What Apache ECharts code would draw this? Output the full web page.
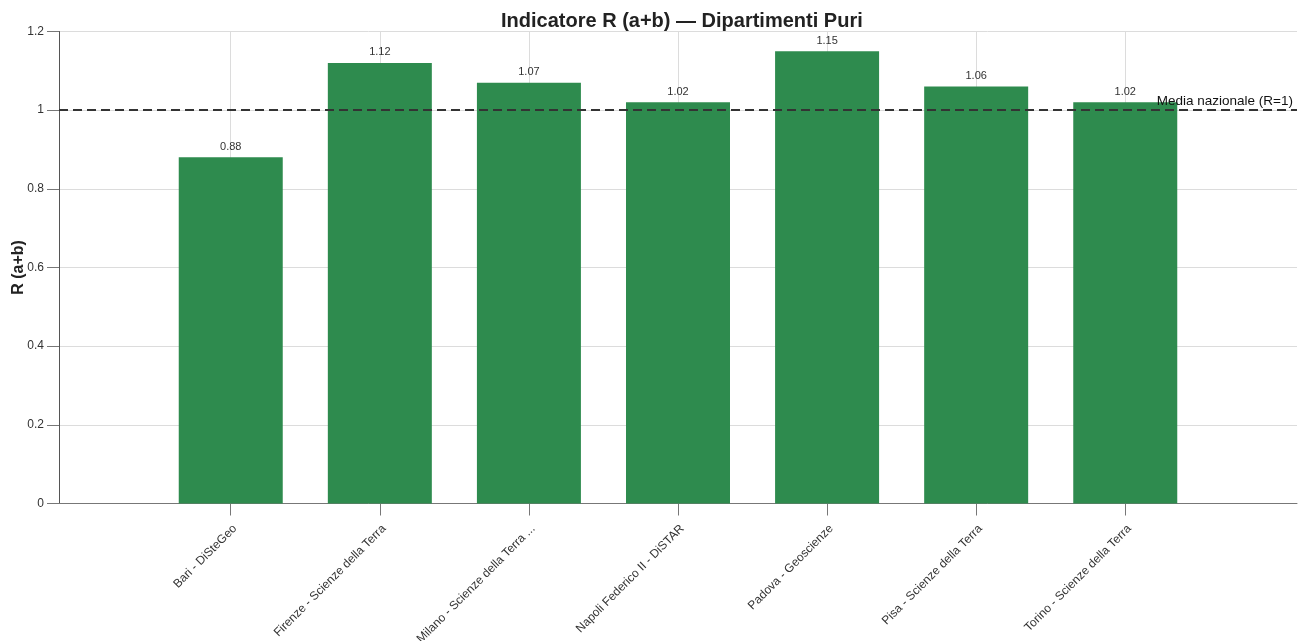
<!DOCTYPE html>
<html>
<head>
<meta charset="utf-8">
<script src="https://cdn.jsdelivr.net/npm/echarts@6/dist/echarts.min.js"></script>
<style>
html,body{margin:0;padding:0;background:#fff;}
#chart{width:1307px;height:641px;}
</style>
</head>
<body>
<div id="chart"></div>
<script>
const categories = [
  "Bari - DiSteGeo",
  "Firenze - Scienze della Terra",
  "Milano - Scienze della Terra ...",
  "Napoli Federico II - DiSTAR",
  "Padova - Geoscienze",
  "Pisa - Scienze della Terra",
  "Torino - Scienze della Terra"
];
const rValues = [0.88, 1.12, 1.07, 1.02, 1.15, 1.06, 1.02];
const referenceValue = 1;
const referenceLabel = "Media nazionale (R=1)";
const yTicks = [0, 0.2, 0.4, 0.6, 0.8, 1, 1.2];

const FONT = '"Liberation Sans", Arial, Helvetica, sans-serif';
const idx = categories.map((_, i) => i);
const pad = 1.152;

const chart = echarts.init(document.getElementById('chart'), null, {renderer: 'canvas'});
chart.setOption({
  animation: false,
  backgroundColor: '#fff',
  textStyle: {fontFamily: FONT},
  title: {
    text: 'Indicatore R (a+b) — Dipartimenti Puri',
    left: 496, top: 6,
    textStyle: {fontFamily: FONT, fontSize: 20, fontWeight: 'bold', color: '#222'}
  },
  grid: {left: 59, right: 10, top: 31.5, bottom: 137.5, containLabel: false, outerBoundsMode: 'none'},
  xAxis: {
    type: 'value',
    min: -pad, max: categories.length - 1 + pad,
    axisLine: {show: true, onZero: false, lineStyle: {color: '#777', width: 1}},
    axisTick: {show: true, customValues: idx, length: 12, lineStyle: {color: '#777'}},
    axisLabel: {
      customValues: idx, rotate: 45, margin: 19, verticalAlign: 'top',
      fontFamily: FONT, fontSize: 12, color: '#333',
      formatter: v => categories[Math.round(v)] || ''
    },
    splitLine: {show: true, lineStyle: {color: '#dcdcdc', width: 1}}
  },
  yAxis: {
    type: 'value', min: yTicks[0], max: yTicks[yTicks.length - 1], interval: 0.2,
    name: 'R (a+b)', nameLocation: 'middle', nameGap: 32, nameRotate: 90,
    nameMoveOverlap: false,
    nameTextStyle: {fontFamily: FONT, fontSize: 16, fontWeight: 'bold', color: '#222'},
    axisLine: {show: true, onZero: false, lineStyle: {color: '#555', width: 1}},
    axisTick: {show: true, length: 12, lineStyle: {color: '#777'}},
    axisLabel: {margin: 15, fontFamily: FONT, fontSize: 12, color: '#333'},
    splitLine: {show: true, lineStyle: {color: '#dcdcdc', width: 1}}
  },
  series: [{
    type: 'bar',
    data: rValues.map((v, i) => [i, v]),
    barWidth: 104,
    itemStyle: {color: '#2e8b4e'},
    label: {
      show: true, position: 'top', distance: 5,
      fontFamily: FONT, fontSize: 11, color: '#333',
      formatter: p => p.value[1].toFixed(2)
    },
    markLine: {
      silent: true, symbol: 'none',
      lineStyle: {color: '#333', width: 2, type: [9, 5]},
      label: {
        show: true, position: 'insideEndTop', distance: [4, 2],
        formatter: referenceLabel,
        fontFamily: FONT, fontSize: 13.5, color: '#111'
      },
      data: [{yAxis: referenceValue}]
    }
  }]
});
</script>
</body>
</html>
